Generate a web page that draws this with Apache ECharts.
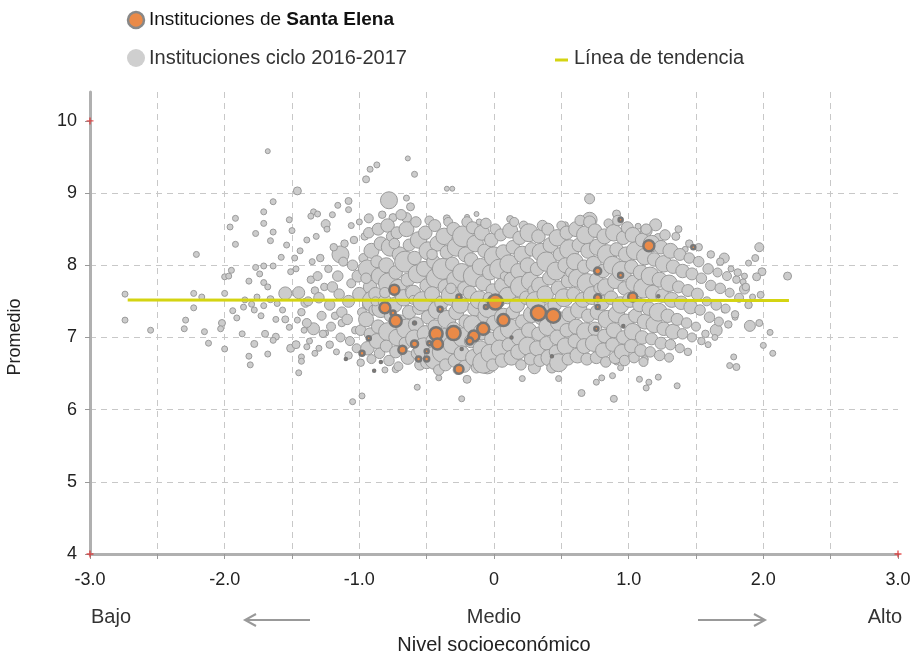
<!DOCTYPE html>
<html>
<head>
<meta charset="utf-8">
<script src="https://cdn.jsdelivr.net/npm/echarts@6/dist/echarts.min.js"></script>
<style>
html, body { margin: 0; padding: 0; background: #fff; }
#chart { width: 912px; height: 655px; }
</style>
</head>
<body>
<div id="chart"></div>
<script>
// ejes
const xTicks = [-3, -2, -1, 0, 1, 2, 3]
const yTicks = [4, 5, 6, 7, 8, 9, 10]
const nivelLabels = ['Bajo', 'Medio', 'Alto']
const cornerMarks = [[-3, 10], [-3, 4], [3, 4]]

// linea de tendencia [nivel, promedio]
const trendLine = [[-2.72, 7.52], [2.19, 7.51]]

// instituciones de Santa Elena [nivel, promedio, diametro]
const santaElena = [
  [-0.74, 7.66, 12], [-0.26, 7.56, 7], [0.01, 7.49, 17], [-0.06, 7.42, 6], [-0.81, 7.41, 13],
  [-0.75, 7.34, 7], [-0.73, 7.23, 14], [-0.40, 7.39, 7], [-0.59, 7.20, 5], [0.07, 7.24, 14],
  [-0.43, 7.05, 15], [-0.30, 7.06, 16], [-0.42, 6.91, 13], [-0.15, 7.02, 13], [-0.08, 7.12, 14],
  [-0.18, 6.95, 9], [-0.59, 6.91, 9], [-0.68, 6.83, 10], [-0.48, 6.92, 6], [-0.50, 6.81, 6],
  [-0.56, 6.70, 7], [-0.50, 6.70, 7], [-0.24, 6.84, 4], [-0.26, 6.56, 11], [-0.93, 6.99, 6],
  [-0.98, 6.78, 7], [-1.10, 6.70, 4], [-0.84, 6.66, 4], [-0.89, 6.54, 4], [0.33, 7.34, 17],
  [0.44, 7.30, 16], [0.13, 7.00, 4], [0.43, 6.74, 4], [0.77, 7.92, 9], [0.94, 7.86, 7],
  [0.77, 7.55, 9], [0.77, 7.42, 6], [1.03, 7.56, 11], [0.76, 7.12, 6], [0.96, 7.16, 4],
  [1.22, 7.57, 4], [1.15, 8.27, 13], [0.94, 8.63, 6], [1.48, 8.25, 6]
]

// instituciones ciclo 2016-2017, puntos dispersos [nivel, promedio, diametro]
const dispersas = [
  [-1.68, 9.58, 5], [-1.46, 9.03, 8], [-1.64, 8.88, 6], [-1.71, 8.74, 6], [-1.92, 8.65, 6], [-1.96, 8.53, 6],
  [-1.71, 8.58, 6], [-1.77, 8.44, 6], [-1.64, 8.46, 6], [-1.92, 8.29, 6], [-1.66, 8.34, 6], [-2.21, 8.15, 6],
  [-2.74, 7.60, 6], [-2.74, 7.24, 6], [-2.55, 7.10, 6], [-2.23, 7.61, 6], [-2.17, 7.56, 6], [-2.23, 7.41, 6],
  [-2.29, 7.24, 6], [-2.30, 7.12, 6], [-2.15, 7.08, 6], [-2.12, 6.92, 6], [-2.00, 7.61, 6], [-2.02, 7.20, 7],
  [-2.03, 7.12, 6], [-2.00, 6.84, 6], [-2.00, 7.84, 6], [-1.97, 7.85, 6], [-1.95, 7.93, 6], [-1.94, 7.37, 6],
  [-1.91, 7.27, 6], [-1.87, 7.05, 6], [-1.82, 7.78, 6], [-1.82, 6.74, 6], [-1.81, 6.62, 6], [-1.78, 6.91, 7],
  [-1.77, 7.97, 6], [-1.71, 7.99, 6], [-1.74, 7.88, 6], [-1.71, 7.76, 6], [-1.68, 7.70, 6], [-1.64, 7.99, 6],
  [-1.58, 8.11, 6], [-1.54, 8.28, 6], [-1.52, 8.63, 6], [-1.50, 8.48, 6], [-1.48, 8.10, 6], [-1.51, 7.91, 6],
  [-1.55, 7.61, 13], [-1.51, 6.85, 8], [-1.43, 6.73, 6], [-1.39, 6.87, 6], [-1.78, 7.38, 6], [-1.73, 7.30, 6],
  [-1.70, 7.05, 7], [-1.62, 7.01, 7], [-1.64, 6.96, 6], [-1.52, 7.14, 6], [-1.68, 6.77, 6], [-1.34, 8.74, 6],
  [-1.36, 8.68, 6], [-1.31, 8.71, 6], [-1.25, 8.57, 9], [-1.16, 8.83, 6], [-1.20, 8.70, 6], [-1.08, 8.89, 7],
  [-1.08, 8.77, 6], [-1.14, 8.15, 17], [-1.25, 7.06, 6], [-1.34, 7.12, 12], [-1.46, 7.24, 6], [-1.45, 6.51, 6],
  [-1.05, 6.11, 6], [-0.98, 6.19, 6], [-1.43, 6.67, 6], [-1.33, 6.78, 6], [-1.47, 6.90, 8],
  [-1.85, 7.52, 6], [-1.80, 7.46, 6], [-1.76, 7.56, 6], [-1.71, 7.44, 6], [-1.66, 7.53, 7], [-1.61, 7.47, 6],
  [-1.57, 7.38, 6], [-1.62, 7.25, 6], [-1.86, 7.42, 6], [-1.55, 7.25, 7],
  [-0.64, 9.48, 5], [-0.59, 9.26, 6], [-0.35, 9.06, 5], [-0.31, 9.06, 5], [-0.78, 8.90, 17], [-0.65, 8.93, 6],
  [-0.62, 8.81, 8], [-0.92, 9.33, 6], [-0.87, 9.39, 6], [-0.95, 9.19, 7], [0.71, 8.92, 10], [0.71, 8.63, 15],
  [0.91, 8.71, 8], [0.12, 8.64, 7], [-0.13, 8.71, 5], [-0.20, 8.67, 5], [-0.35, 8.65, 7], [-0.75, 8.66, 8],
  [-0.65, 8.66, 10], [0.85, 8.57, 7], [0.77, 8.43, 7], [0.53, 8.56, 6], [-0.22, 8.40, 14], [-0.05, 8.38, 8],
  [-0.11, 8.60, 6], [-0.06, 8.60, 6], [1.07, 8.54, 6],
  [1.20, 8.56, 12], [1.13, 8.48, 12], [1.22, 8.37, 10], [1.37, 8.50, 7], [1.35, 8.40, 8], [1.42, 8.22, 6],
  [1.71, 8.10, 10], [1.97, 8.25, 9], [1.94, 8.10, 7], [1.89, 8.03, 6], [1.99, 7.91, 8], [1.95, 7.84, 8],
  [2.18, 7.85, 8], [1.85, 7.77, 6], [1.86, 7.67, 10], [1.98, 7.59, 7], [1.92, 7.56, 6], [1.90, 7.16, 11],
  [1.97, 7.20, 7], [2.05, 7.07, 6], [2.00, 6.89, 6], [2.07, 6.78, 6], [1.78, 6.73, 6], [1.75, 6.61, 6],
  [1.80, 6.59, 7], [1.65, 7.10, 12], [1.79, 7.28, 6], [1.71, 7.38, 6], [1.36, 6.33, 6], [1.22, 6.45, 6],
  [1.15, 6.38, 6], [1.08, 6.42, 6], [1.13, 6.30, 6], [0.89, 6.15, 7], [0.65, 6.23, 7], [0.76, 6.38, 6],
  [0.80, 6.44, 6], [0.88, 6.47, 6], [0.94, 6.58, 6],
  [-0.57, 6.31, 6], [-0.24, 6.15, 6], [-0.41, 6.44, 6], [-0.20, 6.42, 8], [0.21, 6.43, 6], [0.48, 6.43, 6],
  [-0.81, 6.55, 6], [-0.73, 6.56, 7], [1.12, 6.70, 7], [0.91, 6.66, 6], [-0.05, 6.62, 18], [0.30, 6.58, 12]
]

// instituciones ciclo 2016-2017, nube central [nivel, promedio, diametro]
const nube = [
  [-1.45, 7.62, 8], [-1.43, 7.35, 5], [-1.47, 7.95, 4], [-1.41, 7.10, 4], [-1.44, 8.20, 4], [-1.40, 7.48, 6],
  [-1.38, 7.50, 6], [-1.36, 7.80, 5], [-1.39, 7.20, 6], [-1.35, 8.05, 4], [-1.37, 6.95, 4], [-1.39, 8.35, 4], [-1.33, 7.65, 5],
  [-1.30, 7.55, 7], [-1.28, 7.30, 6], [-1.31, 7.85, 6], [-1.29, 8.10, 5], [-1.27, 7.05, 5], [-1.30, 6.85, 4], [-1.32, 8.40, 4], [-1.26, 7.70, 5],
  [-1.22, 7.45, 7], [-1.20, 7.70, 7], [-1.23, 7.95, 5], [-1.21, 7.15, 6], [-1.19, 8.25, 5], [-1.22, 6.90, 5], [-1.24, 8.50, 4], [-1.18, 7.30, 5],
  [-1.15, 7.60, 7], [-1.13, 7.35, 7], [-1.16, 7.85, 7], [-1.12, 8.05, 6], [-1.14, 7.00, 6], [-1.17, 6.80, 4], [-1.11, 8.30, 5], [-1.13, 7.20, 5],
  [-1.08, 7.50, 8], [-1.06, 7.75, 6], [-1.09, 7.25, 7], [-1.05, 8.00, 7], [-1.07, 6.95, 6], [-1.04, 8.35, 5], [-1.08, 6.75, 5], [-1.06, 8.55, 4], [-1.03, 7.10, 5],
  [-1.00, 7.60, 9], [-0.98, 7.35, 6], [-1.01, 7.85, 8], [-0.97, 8.10, 6], [-0.99, 7.10, 7], [-1.02, 6.85, 6], [-0.96, 8.40, 5], [-0.99, 6.65, 5], [-0.95, 7.45, 5], [-1.00, 8.60, 4],
  [-0.93, 8.45, 7], [-0.91, 8.20, 10], [-0.94, 7.95, 12], [-0.92, 7.70, 9], [-0.90, 7.50, 14], [-0.95, 7.25, 10], [-0.92, 7.05, 8], [-0.94, 6.85, 9], [-0.91, 6.70, 6], [-0.93, 8.65, 6], [-0.89, 7.38, 7], [-0.95, 7.82, 7],
  [-0.86, 8.50, 8], [-0.84, 8.30, 9], [-0.87, 8.05, 8], [-0.85, 7.85, 11], [-0.88, 7.60, 9], [-0.84, 7.40, 12], [-0.86, 7.15, 9], [-0.87, 6.95, 10], [-0.85, 6.78, 7], [-0.83, 8.70, 5], [-0.88, 7.50, 6],
  [-0.79, 8.55, 9], [-0.77, 8.25, 12], [-0.80, 8.00, 10], [-0.78, 7.75, 14], [-0.81, 7.50, 9], [-0.77, 7.30, 8], [-0.79, 7.08, 12], [-0.80, 6.88, 8], [-0.78, 6.68, 7], [-0.76, 8.40, 7], [-0.81, 7.62, 7],
  [-0.72, 8.45, 8], [-0.70, 8.15, 10], [-0.73, 7.90, 9], [-0.71, 7.68, 12], [-0.74, 7.45, 10], [-0.70, 7.22, 9], [-0.72, 7.00, 11], [-0.73, 6.80, 8], [-0.71, 6.60, 6], [-0.69, 8.70, 7], [-0.74, 8.30, 7],
  [-0.65, 8.50, 10], [-0.63, 8.28, 8], [-0.66, 8.05, 14], [-0.64, 7.80, 9], [-0.67, 7.55, 11], [-0.63, 7.35, 9], [-0.65, 7.12, 13], [-0.66, 6.92, 8], [-0.64, 6.72, 9], [-0.62, 7.65, 7],
  [-0.58, 8.60, 7], [-0.56, 8.35, 11], [-0.59, 8.10, 9], [-0.57, 7.88, 12], [-0.60, 7.62, 10], [-0.56, 7.40, 8], [-0.58, 7.18, 10], [-0.59, 6.98, 12], [-0.57, 6.78, 8], [-0.55, 6.62, 7], [-0.60, 7.52, 6],
  [-0.51, 8.45, 9], [-0.49, 8.20, 12], [-0.52, 7.95, 10], [-0.50, 7.72, 9], [-0.53, 7.50, 13], [-0.49, 7.28, 9], [-0.51, 7.05, 11], [-0.52, 6.85, 14], [-0.50, 6.65, 8], [-0.48, 8.62, 6],
  [-0.44, 8.55, 8], [-0.42, 8.30, 10], [-0.45, 8.05, 9], [-0.43, 7.82, 13], [-0.46, 7.60, 10], [-0.42, 7.38, 12], [-0.44, 7.15, 9], [-0.45, 6.95, 10], [-0.43, 6.72, 16], [-0.41, 6.55, 7], [-0.46, 8.15, 7],
  [-0.37, 8.40, 11], [-0.35, 8.18, 9], [-0.38, 7.95, 14], [-0.36, 7.70, 10], [-0.39, 7.48, 9], [-0.35, 7.25, 12], [-0.37, 7.02, 10], [-0.38, 6.80, 14], [-0.36, 6.62, 8], [-0.34, 8.60, 6],
  [-0.30, 8.50, 9], [-0.28, 8.25, 12], [-0.31, 8.02, 9], [-0.29, 7.80, 11], [-0.32, 7.58, 13], [-0.28, 7.35, 10], [-0.30, 7.12, 9], [-0.31, 6.90, 12], [-0.29, 6.68, 9], [-0.27, 6.55, 6], [-0.32, 7.68, 7],
  [-0.23, 8.40, 14], [-0.21, 8.15, 10], [-0.24, 7.90, 12], [-0.22, 7.68, 9], [-0.25, 7.45, 11], [-0.21, 7.22, 9], [-0.23, 7.00, 13], [-0.24, 6.78, 10], [-0.22, 6.60, 8], [-0.20, 8.60, 7],
  [-0.16, 8.52, 8], [-0.14, 8.30, 11], [-0.17, 8.08, 9], [-0.15, 7.85, 14], [-0.18, 7.62, 9], [-0.14, 7.40, 10], [-0.16, 7.18, 12], [-0.17, 6.95, 9], [-0.15, 6.72, 11], [-0.13, 6.58, 7],
  [-0.09, 8.45, 10], [-0.07, 8.20, 9], [-0.10, 7.98, 11], [-0.08, 7.75, 10], [-0.11, 7.52, 12], [-0.07, 7.30, 9], [-0.09, 7.08, 11], [-0.10, 6.85, 10], [-0.08, 6.65, 14], [-0.06, 8.58, 7],
  [-0.02, 8.35, 9], [0.00, 8.12, 13], [-0.03, 7.90, 10], [-0.01, 7.65, 9], [-0.04, 7.42, 14], [0.00, 7.20, 10], [-0.02, 6.98, 9], [-0.03, 6.78, 12], [-0.01, 6.62, 8], [0.01, 8.50, 7], [-0.04, 7.55, 7],
  [0.05, 8.42, 8], [0.07, 8.18, 10], [0.04, 7.95, 13], [0.06, 7.72, 10], [0.03, 7.50, 9], [0.07, 7.28, 12], [0.05, 7.05, 10], [0.04, 6.85, 11], [0.06, 6.68, 9], [0.08, 7.85, 6],
  [0.12, 8.48, 10], [0.14, 8.25, 9], [0.11, 8.02, 12], [0.13, 7.80, 10], [0.10, 7.58, 11], [0.14, 7.35, 9], [0.12, 7.12, 13], [0.11, 6.90, 9], [0.13, 6.72, 10], [0.15, 8.60, 6],
  [0.19, 8.38, 9], [0.21, 8.15, 11], [0.18, 7.92, 10], [0.20, 7.70, 14], [0.17, 7.45, 10], [0.21, 7.22, 9], [0.19, 7.00, 11], [0.18, 6.80, 10], [0.20, 6.62, 7], [0.22, 8.55, 6],
  [0.26, 8.45, 12], [0.28, 8.22, 9], [0.25, 8.00, 10], [0.27, 7.78, 12], [0.24, 7.55, 9], [0.28, 7.32, 11], [0.26, 7.10, 10], [0.25, 6.88, 12], [0.27, 6.70, 8], [0.29, 7.65, 7],
  [0.33, 8.40, 9], [0.35, 8.18, 12], [0.32, 7.95, 9], [0.34, 7.72, 11], [0.31, 7.50, 13], [0.35, 7.28, 10], [0.33, 7.05, 9], [0.32, 6.85, 10], [0.34, 6.68, 8], [0.36, 8.55, 7],
  [0.40, 8.50, 8], [0.42, 8.28, 10], [0.39, 8.05, 13], [0.41, 7.82, 9], [0.38, 7.60, 11], [0.42, 7.38, 10], [0.40, 7.15, 12], [0.39, 6.92, 9], [0.41, 6.72, 11], [0.43, 6.58, 7],
  [0.47, 8.38, 11], [0.49, 8.15, 9], [0.46, 7.92, 12], [0.48, 7.68, 10], [0.45, 7.45, 9], [0.49, 7.22, 13], [0.47, 7.00, 10], [0.46, 6.80, 9], [0.48, 6.65, 12], [0.50, 8.55, 6],
  [0.54, 8.45, 9], [0.56, 8.22, 13], [0.53, 8.00, 10], [0.55, 7.78, 9], [0.52, 7.55, 12], [0.56, 7.32, 10], [0.54, 7.10, 9], [0.53, 6.88, 11], [0.55, 6.70, 8], [0.57, 7.90, 7],
  [0.61, 8.50, 10], [0.63, 8.28, 9], [0.60, 8.05, 11], [0.62, 7.82, 12], [0.59, 7.60, 9], [0.63, 7.38, 11], [0.61, 7.15, 10], [0.60, 6.95, 9], [0.62, 6.75, 10], [0.64, 8.62, 7],
  [0.68, 8.42, 12], [0.70, 8.20, 10], [0.67, 7.98, 9], [0.69, 7.75, 13], [0.66, 7.52, 10], [0.70, 7.30, 9], [0.68, 7.08, 12], [0.67, 6.88, 10], [0.69, 6.70, 8], [0.71, 8.60, 8],
  [0.75, 8.48, 9], [0.77, 8.25, 11], [0.74, 8.02, 10], [0.76, 7.80, 9], [0.73, 7.58, 12], [0.77, 7.35, 10], [0.75, 7.12, 9], [0.74, 6.92, 11], [0.76, 6.72, 8], [0.78, 7.68, 7],
  [0.82, 8.40, 10], [0.84, 8.15, 13], [0.81, 7.92, 9], [0.83, 7.70, 11], [0.80, 7.48, 10], [0.84, 7.25, 12], [0.82, 7.02, 9], [0.81, 6.82, 10], [0.83, 6.66, 7], [0.85, 8.58, 6],
  [0.89, 8.45, 11], [0.91, 8.22, 9], [0.88, 8.00, 12], [0.90, 7.78, 10], [0.87, 7.55, 9], [0.91, 7.32, 11], [0.89, 7.10, 10], [0.88, 6.90, 9], [0.90, 6.72, 8], [0.92, 8.62, 7],
  [0.96, 8.38, 9], [0.98, 8.15, 10], [0.95, 7.92, 13], [0.97, 7.68, 9], [0.94, 7.45, 11], [0.98, 7.22, 10], [0.96, 7.00, 9], [0.95, 6.80, 10], [0.97, 6.68, 7], [0.99, 8.52, 8],
  [1.03, 8.42, 10], [1.05, 8.20, 12], [1.02, 7.98, 9], [1.04, 7.75, 11], [1.01, 7.52, 10], [1.05, 7.30, 9], [1.03, 7.08, 11], [1.02, 6.88, 9], [1.04, 6.72, 7],
  [1.10, 8.35, 9], [1.12, 8.12, 11], [1.09, 7.90, 10], [1.11, 7.68, 13], [1.08, 7.45, 9], [1.12, 7.22, 10], [1.10, 7.00, 9], [1.09, 6.82, 8], [1.11, 6.66, 6], [1.13, 8.50, 7],
  [1.17, 8.30, 11], [1.19, 8.08, 9], [1.16, 7.85, 12], [1.18, 7.62, 10], [1.15, 7.40, 9], [1.19, 7.18, 11], [1.17, 6.98, 8], [1.16, 6.80, 7],
  [1.24, 8.25, 9], [1.26, 8.02, 11], [1.23, 7.80, 10], [1.25, 7.58, 9], [1.22, 7.35, 12], [1.26, 7.12, 9], [1.24, 6.92, 8], [1.23, 6.75, 7], [1.27, 8.42, 7],
  [1.31, 8.20, 10], [1.33, 7.98, 9], [1.30, 7.75, 11], [1.32, 7.52, 10], [1.29, 7.30, 9], [1.33, 7.08, 10], [1.31, 6.90, 7], [1.30, 6.72, 6],
  [1.38, 8.15, 8], [1.40, 7.92, 9], [1.37, 7.70, 8], [1.39, 7.48, 9], [1.36, 7.25, 8], [1.40, 7.05, 7], [1.38, 6.85, 6],
  [1.45, 8.10, 7], [1.47, 7.88, 8], [1.44, 7.65, 8], [1.46, 7.42, 9], [1.43, 7.20, 7], [1.47, 7.00, 6], [1.45, 8.30, 5], [1.44, 6.80, 5],
  [1.52, 8.05, 7], [1.54, 7.82, 7], [1.51, 7.60, 8], [1.53, 7.38, 7], [1.50, 7.15, 6], [1.54, 6.95, 5], [1.52, 8.25, 5],
  [1.59, 7.95, 7], [1.61, 7.72, 7], [1.58, 7.50, 6], [1.60, 7.28, 7], [1.57, 7.05, 5], [1.61, 8.15, 5], [1.59, 6.90, 4],
  [1.66, 7.90, 6], [1.68, 7.68, 7], [1.65, 7.45, 7], [1.67, 7.22, 6], [1.64, 7.00, 4], [1.68, 8.05, 5],
  [1.73, 7.85, 6], [1.75, 7.62, 6], [1.72, 7.40, 6], [1.74, 7.18, 5], [1.76, 7.95, 4],
  [1.80, 7.80, 5], [1.82, 7.55, 6], [1.79, 7.32, 5], [1.81, 7.90, 5],
  [1.87, 7.70, 5], [1.89, 7.45, 5], [1.86, 7.85, 4]
]

const font = 'Liberation Sans, Arial, sans-serif'
const greyStyle = { color: '#cccccc', borderColor: '#9a9a9a', borderWidth: 1, opacity: 1 }
const chart = echarts.init(document.getElementById('chart'))

chart.setOption({
  animation: false,
  textStyle: { fontFamily: font },
  grid: { left: 90, right: 14, top: 92, bottom: 101, outerBoundsMode: 'none' },
  xAxis: {
    type: 'value',
    min: -3,
    max: 3,
    interval: 0.5,
    name: 'Nivel socioeconómico',
    nameLocation: 'middle',
    nameGap: 81,
    nameTextStyle: { fontSize: 20, color: '#222' },
    axisLine: { show: true, onZero: false, lineStyle: { color: '#b0b0b0', width: 3 } },
    axisTick: { show: true, length: 5, lineStyle: { color: '#999' } },
    axisLabel: {
      fontSize: 18,
      color: '#222',
      margin: 17,
      formatter: v => xTicks.includes(v) ? (v === 0 ? '0' : v.toFixed(1)) : ''
    },
    splitLine: {
      show: true,
      showMinLine: false,
      showMaxLine: false,
      lineStyle: { color: '#c8c8c8', type: [6, 5] }
    }
  },
  yAxis: {
    type: 'value',
    min: 4,
    max: 10.4,
    interval: 1,
    axisLine: { show: true, onZero: false, lineStyle: { color: '#b0b0b0', width: 3 } },
    axisTick: { show: true, length: 5, customValues: yTicks, lineStyle: { color: '#999' } },
    axisLabel: {
      fontSize: 18,
      color: '#222',
      margin: 13,
      customValues: yTicks,
      formatter: v => String(v)
    },
    splitLine: {
      show: true,
      showMinLine: false,
      showMaxLine: false,
      lineStyle: { color: '#c8c8c8', type: [6, 5] }
    }
  },
  series: [
    {
      name: 'Instituciones ciclo 2016-2017',
      type: 'scatter',
      data: dispersas,
      symbolSize: d => d[2],
      itemStyle: greyStyle,
      z: 2
    },
    {
      name: 'Instituciones ciclo 2016-2017',
      type: 'scatter',
      data: nube,
      symbolSize: d => d[2] * 1.5,
      itemStyle: greyStyle,
      z: 2
    },
    {
      name: 'Instituciones de Santa Elena',
      type: 'scatter',
      data: santaElena,
      symbolSize: d => Math.max(d[2] - 2, 2),
      itemStyle: { color: '#ea8a48', borderColor: '#777777', borderWidth: 2.5, opacity: 1 },
      z: 3
    },
    {
      name: 'Línea de tendencia',
      type: 'line',
      data: trendLine,
      symbol: 'none',
      lineStyle: { color: '#d4d412', width: 3 },
      z: 4
    },
    {
      type: 'scatter',
      data: cornerMarks,
      symbol: 'path://M2,0h1v2h2v1h-2v2h-1v-2h-2v-1h2z',
      symbolSize: 7,
      itemStyle: { color: '#e03030' },
      z: 5
    }
  ],
  graphic: [
    { type: 'circle', shape: { cx: 136, cy: 20, r: 8 }, style: { fill: '#ea8a48', stroke: '#888', lineWidth: 2.5 } },
    {
      type: 'text', x: 149, y: 20,
      style: {
        text: 'Instituciones de {b|Santa Elena}',
        fontSize: 19, fontFamily: font, fill: '#111', verticalAlign: 'middle',
        rich: { b: { fontWeight: 'bold', fontSize: 19, fontFamily: font, fill: '#111' } }
      }
    },
    { type: 'circle', shape: { cx: 136, cy: 58, r: 9 }, style: { fill: '#cfcfcf' } },
    {
      type: 'text', x: 149, y: 58,
      style: { text: 'Instituciones ciclo 2016-2017', fontSize: 20, fontFamily: font, fill: '#333', verticalAlign: 'middle' }
    },
    { type: 'line', shape: { x1: 555, y1: 60, x2: 568, y2: 60 }, style: { stroke: '#d4d412', lineWidth: 3 } },
    {
      type: 'text', x: 574, y: 58,
      style: { text: 'Línea de tendencia', fontSize: 20, fontFamily: font, fill: '#333', verticalAlign: 'middle' }
    },
    {
      type: 'text', x: 15, y: 337, rotation: Math.PI / 2,
      style: { text: 'Promedio', fontSize: 18, fontFamily: font, fill: '#222', align: 'center', verticalAlign: 'middle' }
    },
    { type: 'text', x: 111, y: 617, style: { text: nivelLabels[0], fontSize: 20, fontFamily: font, fill: '#333', align: 'center', verticalAlign: 'middle' } },
    { type: 'text', x: 494, y: 617, style: { text: nivelLabels[1], fontSize: 20, fontFamily: font, fill: '#333', align: 'center', verticalAlign: 'middle' } },
    { type: 'text', x: 885, y: 617, style: { text: nivelLabels[2], fontSize: 20, fontFamily: font, fill: '#333', align: 'center', verticalAlign: 'middle' } },
    { type: 'polyline', shape: { points: [[310, 620], [245, 620]] }, style: { stroke: '#999', lineWidth: 2 } },
    { type: 'polyline', shape: { points: [[256, 614], [245, 620], [256, 626]] }, style: { stroke: '#999', lineWidth: 2, fill: null } },
    { type: 'polyline', shape: { points: [[698, 620], [765, 620]] }, style: { stroke: '#999', lineWidth: 2 } },
    { type: 'polyline', shape: { points: [[754, 614], [765, 620], [754, 626]] }, style: { stroke: '#999', lineWidth: 2, fill: null } }
  ]
})
</script>
</body>
</html>
